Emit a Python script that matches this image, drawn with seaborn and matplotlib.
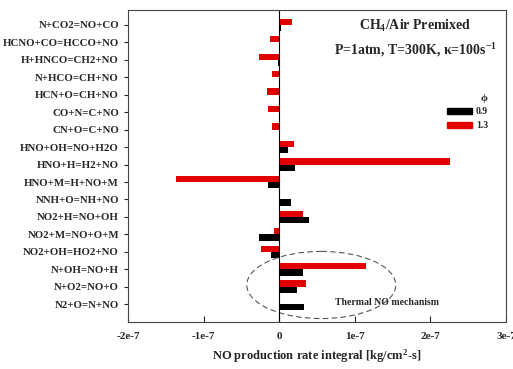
import numpy as np
import pandas as pd
import matplotlib
matplotlib.use("Agg")
import matplotlib.pyplot as plt
from matplotlib.patches import Ellipse, Patch
import seaborn as sns

reactions = ["N+CO2=NO+CO", "HCNO+CO=HCCO+NO", "H+HNCO=CH2+NO", "N+HCO=CH+NO",
             "HCN+O=CH+NO", "CO+N=C+NO", "CN+O=C+NO", "HNO+OH=NO+H2O",
             "HNO+H=H2+NO", "HNO+M=H+NO+M", "NNH+O=NH+NO", "NO2+H=NO+OH",
             "NO2+M=NO+O+M", "NO2+OH=HO2+NO", "N+OH=NO+H", "N+O2=NO+O", "N2+O=N+NO"]
phi_09 = [0.2e-8, 0.0, -0.2e-8, 0.0, 0.0, 0.0, 0.0, 1.1e-8, 2.1e-8, -1.5e-8,
          1.6e-8, 4.0e-8, -2.7e-8, -1.1e-8, 3.2e-8, 2.3e-8, 3.3e-8]
phi_13 = [1.7e-8, -1.2e-8, -2.7e-8, -0.9e-8, -1.6e-8, -1.5e-8, -0.9e-8, 1.9e-8,
          2.26e-7, -1.37e-7, 0.1e-8, 3.2e-8, -0.7e-8, -2.4e-8, 1.15e-7, 3.5e-8, 0.1e-8]

df = pd.DataFrame({
    "reaction": reactions * 2,
    "rate": phi_13 + phi_09,
    "phi": ["1.3"] * len(reactions) + ["0.9"] * len(reactions),
})

sns.set_style("ticks")
plt.rcParams["font.family"] = ["Liberation Serif", "DejaVu Serif"]
plt.rcParams["font.weight"] = "bold"
plt.rcParams["mathtext.fontset"] = "custom"
plt.rcParams["mathtext.rm"] = "Liberation Serif:bold"
plt.rcParams["mathtext.bf"] = "Liberation Serif:bold"
plt.rcParams["mathtext.it"] = "Liberation Serif:bold"

fig = plt.figure(figsize=(5.13, 3.69), dpi=100)
ax = fig.add_axes([0.2495, 0.127, 0.737, 0.846])

colors = {"0.9": "#000000", "1.3": "#e00000"}
sns.barplot(data=df, y="reaction", x="rate", hue="phi", hue_order=["1.3", "0.9"],
            palette=colors, orient="h", width=0.72, saturation=1, ax=ax,
            edgecolor="none", legend=False)

ax.axvline(0, color="black", lw=0.8)
ax.set_xlim(-2e-7, 3e-7)
ax.set_ylim(17.03, -0.86)
ax.set_xticks([-2e-7, -1e-7, 0, 1e-7, 2e-7, 3e-7])
ax.set_xticklabels(["-2e-7", "-1e-7", "0", "1e-7", "2e-7", "3e-7"])
ax.tick_params(axis="x", direction="in", labelsize=8, pad=7, length=4)
ax.tick_params(axis="y", direction="out", labelsize=7.8, length=3)
for lab in ax.get_yticklabels() + ax.get_xticklabels():
    lab.set_fontweight("bold")
ax.set_ylabel("")
ax.set_xlabel("NO production rate integral [kg/cm$^\\mathrm{2}$-s]",
              fontsize=9, fontweight="bold", labelpad=5)
for s in ax.spines.values():
    s.set_visible(True)
    s.set_color("#444444")
    s.set_linewidth(0.8)

ax.add_patch(Ellipse((0.556e-7, 14.9), 1.97e-7, 3.85, fill=False,
                     ls=(0, (5, 3)), lw=0.8, edgecolor="#555555"))
ax.text(1.42e-7, 15.9, "Thermal NO mechanism", fontsize=7, fontweight="bold",
        ha="center", va="center")

ax.text(0.76, 0.95, "CH$_\\mathrm{4}$/Air Premixed", transform=ax.transAxes,
        fontsize=10, fontweight="bold", ha="center", va="center")
ax.text(0.76, 0.87, "P=1atm, T=300K, \u03ba=100s$^\\mathrm{-1}$", transform=ax.transAxes,
        fontsize=10, fontweight="bold", ha="center", va="center")

handles = [Patch(color=colors["0.9"], label="0.9"), Patch(color=colors["1.3"], label="1.3")]
leg = ax.legend(handles=handles, title="\u03d5", frameon=False, loc="upper right",
                bbox_to_anchor=(0.975, 0.76), fontsize=7, title_fontsize=8,
                handlelength=2.6, handleheight=0.6, handletextpad=0.4,
                labelspacing=0.5, alignment="right")
for t in leg.get_texts():
    t.set_fontweight("bold")

fig.savefig("out.png", dpi=100)
